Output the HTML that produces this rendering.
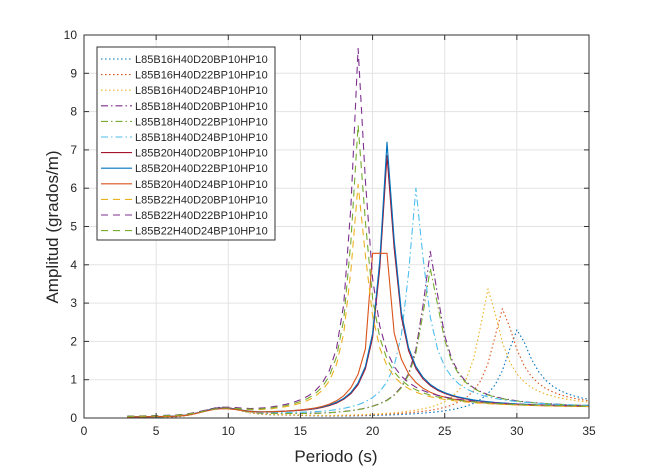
<!DOCTYPE html>
<html><head><meta charset="utf-8"><style>
body{margin:0;background:#fff}
svg{display:block;font-family:"Liberation Sans",sans-serif}
</style></head><body>
<svg id="s" width="650" height="470" viewBox="0 0 650 470" xmlns="http://www.w3.org/2000/svg">
<rect width="650" height="470" fill="#fff"/>
<g id="grid" stroke="#e3e3e3" stroke-width="1"></g>
<g id="curves" fill="none" stroke-width="1.1" stroke-linejoin="round"></g>
<g id="axes" stroke="#333" stroke-width="1" fill="none"></g>
<g id="labels" fill="#262626" font-size="12"></g>
<text x="336" y="462" font-size="17" fill="#262626" text-anchor="middle">Periodo (s)</text>
<text transform="translate(58,227) rotate(-90)" font-size="17" fill="#262626" text-anchor="middle">Amplitud (grados/m)</text>
<g id="legend"></g>
</svg>
<script>
const X0=84,X1=589,Y0=418,Y1=35;
const sx=t=>X0+(X1-X0)*t/35, sy=v=>Y0-(Y0-Y1)*v/10;
const NS="http://www.w3.org/2000/svg";
function el(p,n,a,txt){const e=document.createElementNS(NS,n);for(const k in a)e.setAttribute(k,a[k]);if(txt!=null)e.textContent=txt;document.getElementById(p).appendChild(e);return e;}
for(let t=5;t<35;t+=5){el("grid","line",{x1:sx(t),x2:sx(t),y1:Y1,y2:Y0});}
for(let v=1;v<10;v++){el("grid","line",{x1:X0,x2:X1,y1:sy(v),y2:sy(v)});}
el("axes","rect",{x:X0,y:Y1,width:X1-X0,height:Y0-Y1});
for(let t=0;t<=35;t+=5){el("axes","line",{x1:sx(t),x2:sx(t),y1:Y0,y2:Y0-5});el("axes","line",{x1:sx(t),x2:sx(t),y1:Y1,y2:Y1+5});
el("labels","text",{x:sx(t),y:Y0+17,"text-anchor":"middle"},String(t));}
for(let v=0;v<=10;v++){el("axes","line",{x1:X0,x2:X0+5,y1:sy(v),y2:sy(v)});el("axes","line",{x1:X1,x2:X1-5,y1:sy(v),y2:sy(v)});
el("labels","text",{x:X0-7,y:sy(v)+4,"text-anchor":"end"},String(v));}
const C=["#0072BD","#D95319","#EDB120","#7E2F8E","#77AC30","#4DBEEE","#A2142F","#0072BD","#D95319","#EDB120","#7E2F8E","#77AC30"];
const D=["1.5,2.5","1.5,2.5","1.5,2.5","7,3,1.5,3","7,3,1.5,3","7,3,1.5,3","","","","7,5","7,5","7,5"];
const names=["L85B16H40D20BP10HP10","L85B16H40D22BP10HP10","L85B16H40D24BP10HP10","L85B18H40D20BP10HP10","L85B18H40D22BP10HP10","L85B18H40D24BP10HP10","L85B20H40D20BP10HP10","L85B20H40D22BP10HP10","L85B20H40D24BP10HP10","L85B22H40D20BP10HP10","L85B22H40D22BP10HP10","L85B22H40D24BP10HP10"];
// [T0, peak, wl, wr]
const P=[[30,2.3,1.1,1.3],[29,2.85,1.0,1.2],[28,3.37,0.9,1.1],[24,4.35,0.8,0.9],[24,3.9,0.85,0.95],[23,6.0,0.7,0.8],[21,6.85,0.6,0.7],[21,7.2,0.6,0.7],[20.5,5.0,0.7,0.8],[19,6.1,0.7,0.8],[19,9.65,0.6,0.7],[19,7.65,0.65,0.75]];
function f(i,t){const [T0,A,wl,wr]=P[i];const d=t-T0;const e=1.6;
 let v=0.25*Math.exp(-Math.pow((t-9.5)/1.8,2))*(1-0.04*i)+0.05*Math.exp(-Math.pow((t-13)/3,2));
 if(t<3.5)v=0;
 if(d<=0)v+=A/(1+Math.pow(-d/wl,e));
 else v+=A/(1+Math.pow(d/wr,e))+0.25*(1-Math.exp(-d));
 return v;}
for(let i=0;i<12;i++){let pts=[];
 for(let t=3;t<=35.001;t+=0.5){let v=f(i,t);if(i==8&&t>=20&&t<=21)v=4.3;pts.push(sx(t).toFixed(1)+","+sy(v).toFixed(1));}
 const a={points:pts.join(" "),stroke:C[i]};if(D[i])a["stroke-dasharray"]=D[i];el("curves","polyline",a);}
el("legend","rect",{x:97,y:47,width:178,height:193,fill:"#fff",stroke:"#333","stroke-width":1});
for(let i=0;i<12;i++){const y=59+i*15.6;const a={x1:101,x2:132,y1:y,y2:y,stroke:C[i],"stroke-width":1.1};if(D[i])a["stroke-dasharray"]=D[i];
 el("legend","line",a);el("legend","text",{x:135,y:y+4,"font-size":"11",fill:"#262626"},names[i]);}
</script>
</body></html>
